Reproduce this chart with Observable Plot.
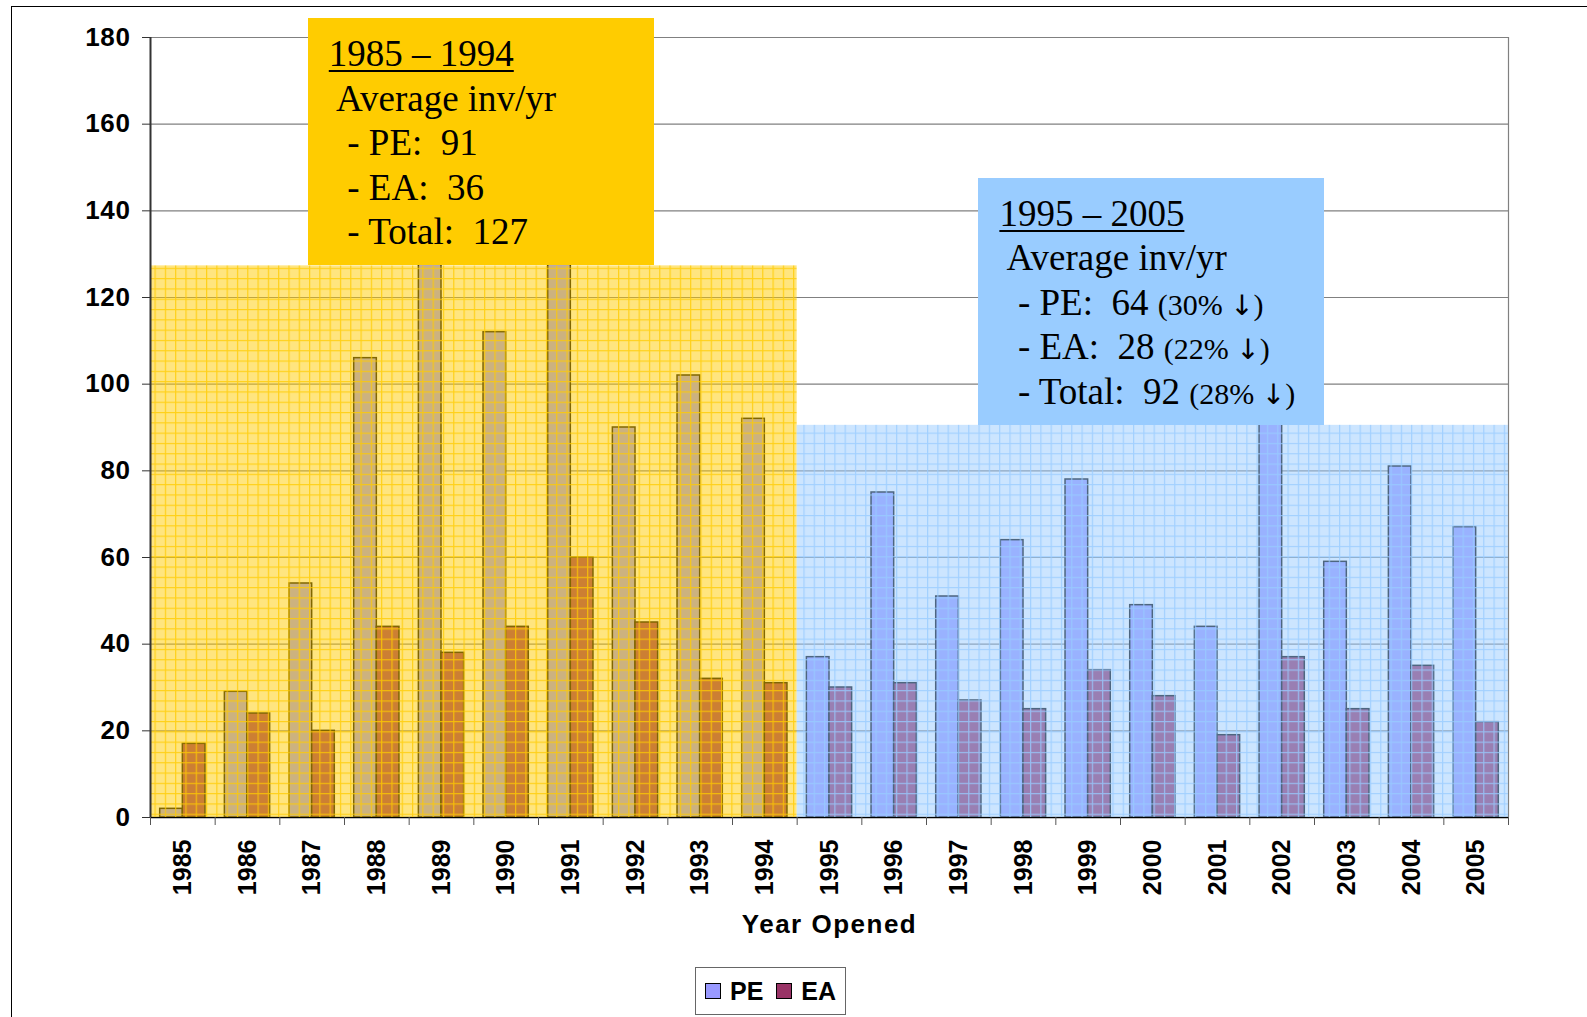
<!DOCTYPE html>
<html>
<head>
<meta charset="utf-8">
<script src="https://cdn.jsdelivr.net/npm/d3@7"></script>
<script src="https://cdn.jsdelivr.net/npm/@observablehq/plot@0.6"></script>
<style>
  html, body { margin: 0; padding: 0; background: #fff; }
  body { width: 1587px; height: 1017px; overflow: hidden; position: relative; font-family: "Liberation Sans", Arial, sans-serif; }
  #frame { position: absolute; left: 11px; top: 6px; width: 1650px; height: 1100px; border: 1px solid #000; }
  #chart { position: absolute; left: 0; top: 0; }
  .box { position: absolute; width: 346px; height: 247px; box-sizing: border-box; padding: 14px 0 0 21px;
         font-family: "Liberation Serif", "Times New Roman", serif; font-size: 37px;
         white-space: pre; color: #000; }
  .box .ln { height: 44.5px; line-height: 44.5px; overflow: visible; }
  .box u { text-decoration-thickness: 2px; text-underline-offset: 4px; }
  .box .s { font-size: 30px; line-height: 20px; }
  .box .ar { font-family: "DejaVu Sans", sans-serif; font-size: 28px; font-weight: normal; line-height: 20px; }
  #legend { position: absolute; left: 695px; top: 967px; width: 151px; height: 48px; box-sizing: border-box;
            border: 1px solid #666; display: flex; align-items: center; padding-left: 9px;
            font: bold 25px "Liberation Sans", Arial, sans-serif; }
  #legend .sw { width: 14px; height: 14px; border: 1px solid #000; display: inline-block; margin-right: 9px; }
  #legend .it { display: flex; align-items: center; margin-right: 13px; }
  #chart svg g[aria-label="y-axis tick label"] text { letter-spacing: 0.6px; }
  #chart svg g[aria-label="x-axis label"] text { letter-spacing: 1.5px; font-size: 26px; }
</style>
</head>
<body>
<svg width="0" height="0" style="position:absolute">
  <defs>
    <pattern id="yellowGrid" width="10.3" height="10.3" patternUnits="userSpaceOnUse">
      <rect width="10.3" height="10.3" fill="#FFCC00" fill-opacity="0.5"></rect>
      <path d="M0 0.6H10.3M0.6 0V10.3" stroke="#FFCC00" stroke-opacity="0.8" stroke-width="1.2" fill="none"></path>
    </pattern>
    <pattern id="blueGrid" width="10.3" height="10.3" patternUnits="userSpaceOnUse">
      <rect width="10.3" height="10.3" fill="#99CCFF" fill-opacity="0.5"></rect>
      <path d="M0 0.6H10.3M0.6 0V10.3" stroke="#99CCFF" stroke-opacity="0.8" stroke-width="1.2" fill="none"></path>
    </pattern>
  </defs>
</svg>
<div id="frame"></div>
<div id="chart"></div>
<div id="legend"></div>
<script>
// ---- data ----
const years = [1985,1986,1987,1988,1989,1990,1991,1992,1993,1994,1995,1996,1997,1998,1999,2000,2001,2002,2003,2004,2005];
const peValues = [2,29,54,106,160,112,163,90,102,92,37,75,51,64,78,49,44,99,59,81,67];
const eaValues = [17,24,20,44,38,44,60,45,32,31,30,31,27,25,34,28,19,37,25,35,22];
const seriesNames = ["PE", "EA"];
const seriesColors = ["#9999FF", "#993366"];
const yTicks = [0,20,40,60,80,100,120,140,160,180];
const periodStart = [1985, 1995];
const periodEnd = [1994, 2005];
const periodLevel = [127.3, 90.5];   // top of shaded period bands (average total inv/yr)
const periodFill = ["url(#yellowGrid)", "url(#blueGrid)"];
const periodBoxColor = ["#FFCC00", "#99CCFF"];
const periodTitle = ["1985 \u2013 1994", "1995 \u2013 2005"];
const periodLines = [
  [["  - PE:  91", "", ""], ["  - EA:  36", "", ""], ["  - Total:  127", "", ""]],
  [["  - PE:  64 ", "(30% ", ")"], ["  - EA:  28 ", "(22% ", ")"], ["  - Total:  92 ", "(28% ", ")"]]
];
const xLabel = "Year Opened";

const data = years.map((year, i) => ({year, PE: peValues[i], EA: eaValues[i]}));
const periods = periodStart.map((s, i) => ({start: s, end: periodEnd[i], level: periodLevel[i], fill: periodFill[i]}));
const boundaries = [years[0] - 0.5, ...years.map(y => y + 0.5)];

const chart = Plot.plot({
  width: 1587,
  height: 945,
  marginLeft: 150,
  marginRight: 79,
  marginTop: 37,
  marginBottom: 128,
  style: {fontFamily: "'Liberation Sans', Arial, sans-serif", fontSize: "25px", fontWeight: "bold", color: "#000", background: "transparent"},
  x: {type: "linear", domain: [years[0] - 0.5, years[years.length - 1] + 0.5]},
  y: {domain: [0, 180]},
  marks: [
    Plot.ruleY(yTicks.filter(d => d > 0), {stroke: "#808080", strokeWidth: 1.2}),
    Plot.ruleX([boundaries[boundaries.length - 1]], {y1: 0, y2: 180, stroke: "#808080", strokeWidth: 1.2}),
    Plot.rectY(data, {x1: d => d.year - 0.35, x2: d => d.year, y: "PE", fill: seriesColors[0], stroke: "#000", strokeWidth: 1.5}),
    Plot.rectY(data, {x1: d => d.year, x2: d => d.year + 0.35, y: "EA", fill: seriesColors[1], stroke: "#000", strokeWidth: 1.5}),
    Plot.ruleY([0], {stroke: "#000", strokeWidth: 1.5}),
    Plot.rect(periods.slice(0, 1), {x1: d => d.start - 0.5, x2: d => d.end + 0.5, y1: 0, y2: "level", fill: periodFill[0]}),
    Plot.rect(periods.slice(1, 2), {x1: d => d.start - 0.5, x2: d => d.end + 0.5, y1: 0, y2: "level", fill: periodFill[1]}),
    Plot.ruleX([boundaries[0]], {y1: 0, y2: 180, stroke: "#333", strokeWidth: 2}),
    Plot.axisY({ticks: yTicks, tickSize: 8, tickPadding: 12, label: null, stroke: "#333", fontSize: 26, fontWeight: "bold"}),
    Plot.axisX({ticks: boundaries, tickSize: 8, tickFormat: () => "", label: null, stroke: "#555"}),
    Plot.axisX({ticks: years, tickSize: 0, tickPadding: 22, tickRotate: -90, tickFormat: d => String(d),
                fontSize: 25, fontWeight: "bold", label: xLabel, labelAnchor: "center", labelArrow: "none", labelOffset: 115})
  ]
});
document.getElementById("chart").appendChild(chart);

// annotation boxes sitting on top of each shaded band
const yScale = chart.scale("y");
const xScale = chart.scale("x");
const boxLeft = [1986.94, 1997.31];
periods.forEach((p, i) => {
  const box = document.createElement("div");
  box.className = "box";
  box.style.background = periodBoxColor[i];
  const bottom = yScale.apply(p.level);
  box.style.top = (bottom - 247) + "px";
  box.style.left = xScale.apply(boxLeft[i]) + "px";
  let html = "<div class='ln'><u>" + periodTitle[i] + "</u></div><div class='ln'><span> Average inv/yr</span></div>";
  periodLines[i].forEach(([a, b, c]) => {
    html += "<div class='ln'><span>" + a + "</span>" +
      (b ? "<span class='s'>" + b + "</span><span class='ar'>\u2193</span><span class='s'>" + c + "</span>" : "") + "</div>";
  });
  box.innerHTML = html;
  document.body.appendChild(box);
});

// legend
const legend = document.getElementById("legend");
seriesNames.forEach((name, i) => {
  const it = document.createElement("span");
  it.className = "it";
  it.innerHTML = `<span class="sw" style="background:${seriesColors[i]}"></span>${name}`;
  legend.appendChild(it);
});
</script>
</body>
</html>
